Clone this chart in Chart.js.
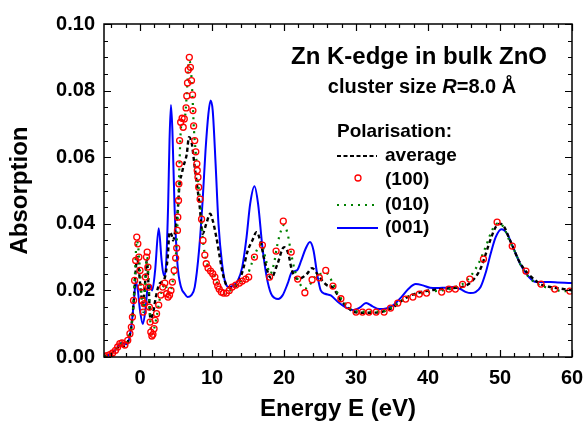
<!DOCTYPE html>
<html>
<head>
<meta charset="utf-8">
<script src="https://cdn.jsdelivr.net/npm/chart.js@4.4.1/dist/chart.umd.min.js"></script>
<style>
  body { margin: 0; background: #fff; }
</style>
</head>
<body>
<canvas id="chart" width="585" height="426"></canvas>
<script>
// values: energy (eV) and absorption for each polarisation
var avgE = [-5, -4.5, -4, -3.5, -3, -2.7, -2.3, -1.9, -1.5, -1.2, -0.9, -0.6, -0.4, -0.15, 0.15, 0.4, 0.7, 0.95, 1.2, 1.45,
  1.8, 2.2, 2.7, 3.4, 3.85, 4.1, 4.4, 4.6, 4.9, 5.2, 5.5, 5.8, 6.0, 6.5, 6.8, 7.2, 7.6, 7.9, 8.3, 8.7,
  9.2, 9.75, 10.1, 10.6, 11, 11.5, 12.2, 12.8, 13.8, 14.4, 14.9, 15.6, 16.2, 16.8, 17.3, 18.2, 19.1, 20, 20.6, 21.1,
  21.8, 22.4, 23.2, 23.9, 24.6, 25.3, 26, 26.7, 27.9, 28.8, 29.7, 31, 32, 33.2, 34.3, 35.2, 36.4, 37.7, 39.7, 41.5,
  43.5, 44.7, 45.7, 46.6, 47.4, 48.1, 48.8, 49.4, 50, 50.6, 51.2, 51.8, 52.6, 53.5, 54.9, 56, 57.1, 58.5, 60];
var avgA = [0.0003, 0.0005, 0.001, 0.002, 0.003, 0.0036, 0.0033, 0.0036, 0.006, 0.009, 0.016, 0.026, 0.030, 0.026, 0.019, 0.016, 0.022, 0.029, 0.021, 0.0115,
  0.013, 0.018, 0.022, 0.0235, 0.030, 0.0375, 0.0366, 0.035, 0.038, 0.043, 0.052, 0.055, 0.057, 0.061, 0.066, 0.064, 0.057, 0.052, 0.045, 0.037,
  0.040, 0.043, 0.041, 0.036, 0.031, 0.025, 0.021, 0.0208, 0.023, 0.027, 0.0315, 0.035, 0.0375, 0.034, 0.029, 0.0237, 0.028, 0.033, 0.031, 0.026,
  0.0235, 0.0237, 0.025, 0.0267, 0.025, 0.023, 0.0215, 0.021, 0.017, 0.015, 0.0135, 0.0133, 0.0133, 0.0134, 0.014, 0.015, 0.017, 0.0186, 0.0198, 0.0203,
  0.0207, 0.021, 0.022, 0.024, 0.027, 0.0315, 0.036, 0.039, 0.040, 0.039, 0.036, 0.033, 0.029, 0.026, 0.023, 0.0215, 0.021, 0.0205, 0.020];

var e100 = [-5, -4.6, -4.2, -3.8, -3.4, -3.1, -2.8, -2.5, -2.1, -1.7, -1.4, -1.2, -1.05, -0.9, -0.75, -0.6, -0.45, -0.3, -0.15, 0,
  0.15, 0.3, 0.45, 0.6, 0.75, 0.9, 1.0, 1.1, 1.2, 1.3, 1.4, 1.5, 1.65, 1.8, 1.95, 2.1, 2.3, 2.6, 2.9, 3.15,
  3.45, 3.7, 3.9, 4.1, 4.3, 4.5, 4.75, 4.95, 5.1, 5.2, 5.25, 5.35, 5.4, 5.45, 5.5, 5.65, 5.85, 6.0, 6.15, 6.4,
  6.5, 6.6, 6.7, 6.85, 7.0, 7.15, 7.3, 7.35, 7.45, 7.6, 7.75, 7.9, 7.95, 8.05, 8.15, 8.35, 8.55, 8.75, 9.0, 9.2,
  9.45, 9.8, 10.1, 10.4, 10.6, 10.8, 11.0, 11.3, 11.6, 12.0, 12.4, 12.8, 13.3, 13.8, 14.2, 14.7, 15.1, 15.9, 17.0, 18.0,
  18.9, 19.9, 21.0, 21.9, 22.9, 23.9, 24.9, 25.8, 26.8, 27.9, 28.9, 30.0, 30.9, 31.8, 32.8, 33.9, 34.8, 35.8, 36.9, 37.9,
  38.8, 39.8, 41.9, 42.9, 43.8, 44.8, 45.8, 47.7, 49.6, 51.7, 53.6, 55.7, 57.6, 59.7];
var a100 = [0.0002, 0.0004, 0.0007, 0.0012, 0.002, 0.003, 0.0040, 0.0042, 0.0036, 0.005, 0.007, 0.009, 0.012, 0.017, 0.023, 0.029, 0.036, 0.034, 0.030, 0.026,
  0.021, 0.017, 0.0135, 0.016, 0.024, 0.030, 0.0315, 0.027, 0.021, 0.015, 0.0105, 0.0075, 0.0063, 0.0068, 0.0085, 0.011, 0.013, 0.0156, 0.0186, 0.021,
  0.0222, 0.019, 0.018, 0.0186, 0.020, 0.0225, 0.026, 0.0297, 0.0327, 0.038, 0.042, 0.047, 0.052, 0.058, 0.065, 0.0705, 0.0717, 0.069, 0.0715, 0.0748,
  0.0784, 0.0823, 0.0862, 0.090, 0.087, 0.083, 0.0787, 0.074, 0.0694, 0.065, 0.0616, 0.058, 0.056, 0.054, 0.051, 0.0474, 0.0414, 0.035, 0.0306, 0.028,
  0.0267, 0.0258, 0.025, 0.024, 0.0225, 0.0213, 0.0204, 0.0195, 0.0192, 0.0192, 0.020, 0.021, 0.0216, 0.0222, 0.0228, 0.0234, 0.024, 0.030, 0.0336, 0.024,
  0.0318, 0.0408, 0.0315, 0.0234, 0.0193, 0.0232, 0.0238, 0.026, 0.0213, 0.0175, 0.0154, 0.0135, 0.0135, 0.0135, 0.0135, 0.0135, 0.0147, 0.0162, 0.0174, 0.018,
  0.0189, 0.0192, 0.0195, 0.0204, 0.0204, 0.0218, 0.0234, 0.0294, 0.0405, 0.0333, 0.0258, 0.0219, 0.0204, 0.0198];

var e010 = [-5, -4.5, -4, -3.5, -3.1, -2.7, -2.3, -1.9, -1.5, -1.2, -0.9, -0.7, -0.45, -0.25, 0, 0.25, 0.45, 0.65, 0.85, 1.0,
  1.15, 1.35, 1.6, 1.9, 2.3, 2.8, 3.2, 3.5, 3.9, 4.3, 4.7, 5.0, 5.25, 5.45, 5.7, 6.0, 6.3, 6.55, 6.8, 7.0,
  7.25, 7.5, 7.8, 8.1, 8.4, 8.7, 9.0, 9.5, 10.0, 10.5, 11.0, 11.6, 12.2, 12.8, 13.5, 14.2, 14.9, 15.5, 16.2, 16.9,
  17.5, 18.1, 18.6, 19.1, 19.6, 20.0, 20.5, 21.0, 21.5, 22.2, 22.9, 23.5, 24.3, 25.2, 26.0, 26.8, 27.5, 28.3, 29.2, 30.2,
  31.5, 33, 34, 35, 36, 37, 38, 39, 40, 41, 42, 43, 44, 45, 46, 47, 48, 49, 49.8, 50.5,
  51.3, 52.2, 53, 54, 55, 56, 57, 58, 59, 60];
var a010 = [0.0002, 0.0005, 0.001, 0.0018, 0.003, 0.0040, 0.0039, 0.004, 0.0065, 0.009, 0.016, 0.025, 0.035, 0.033, 0.026, 0.018, 0.0135, 0.018, 0.027, 0.030,
  0.025, 0.014, 0.0068, 0.008, 0.012, 0.018, 0.021, 0.022, 0.019, 0.020, 0.025, 0.031, 0.042, 0.056, 0.069, 0.071, 0.073, 0.081, 0.089, 0.088,
  0.080, 0.068, 0.060, 0.052, 0.046, 0.036, 0.031, 0.027, 0.0255, 0.0235, 0.0205, 0.019, 0.0195, 0.0205, 0.022, 0.023, 0.0245, 0.028, 0.032, 0.034,
  0.029, 0.025, 0.028, 0.034, 0.038, 0.0396, 0.037, 0.031, 0.026, 0.022, 0.0205, 0.0215, 0.024, 0.025, 0.025, 0.022, 0.019, 0.0165, 0.0145, 0.0137,
  0.0136, 0.0136, 0.0138, 0.015, 0.0165, 0.0178, 0.0186, 0.019, 0.0195, 0.0198, 0.020, 0.0204, 0.0212, 0.0222, 0.0245, 0.028, 0.033, 0.0385, 0.0402, 0.039,
  0.035, 0.031, 0.027, 0.024, 0.0222, 0.0212, 0.0205, 0.020, 0.0198, 0.0197];

var e001 = [-5, -4.5, -4, -3.5, -3, -2.6, -2.2, -1.8, -1.4, -1.1, -0.8, -0.6, -0.3, 0, 0.4, 0.8, 1.1, 1.4, 1.7, 2.1,
  2.6, 3.0, 3.3, 3.6, 3.9, 4.1, 4.3, 4.5, 4.8, 5.2, 5.7, 6.2, 6.6, 7.1, 7.6, 8.2, 8.7, 9.1, 9.5, 9.8,
  10.1, 10.5, 10.9, 11.4, 11.9, 12.4, 13, 13.6, 14.2, 14.8, 15.3, 15.9, 16.4, 17, 17.6, 18.2, 18.7, 19.2, 19.8, 20.5,
  21.1, 21.8, 22.4, 23, 23.6, 24.1, 24.6, 25.1, 25.7, 26.5, 27.5, 28.5, 29.7, 30.5, 31.4, 32.3, 33.2, 34.2, 35.2, 36.3,
  37.3, 38.3, 39.3, 40.3, 41.2, 42.2, 43.5, 44.5, 45.3, 45.9, 46.6, 47.3, 48, 48.7, 49.4, 50.2, 51, 51.6, 52.1, 52.8,
  53.6, 54.4, 55, 56, 57, 58, 59, 60];
var a001 = [0.0003, 0.0005, 0.001, 0.002, 0.0033, 0.0042, 0.0040, 0.0038, 0.0065, 0.011, 0.018, 0.0225, 0.020, 0.014, 0.0099, 0.015, 0.0215, 0.0215, 0.020, 0.026,
  0.0387, 0.029, 0.0245, 0.027, 0.045, 0.065, 0.0757, 0.068, 0.045, 0.028, 0.021, 0.019, 0.018, 0.0185, 0.021, 0.032, 0.047, 0.062, 0.073, 0.077,
  0.074, 0.058, 0.040, 0.028, 0.022, 0.021, 0.0215, 0.023, 0.027, 0.036, 0.046, 0.0513, 0.046, 0.033, 0.024, 0.019, 0.0177, 0.0174, 0.0185, 0.022,
  0.0255, 0.026, 0.029, 0.0325, 0.0345, 0.032, 0.025, 0.020, 0.019, 0.0185, 0.0165, 0.015, 0.0141, 0.0148, 0.0162, 0.0152, 0.0144, 0.0146, 0.0156, 0.018,
  0.0205, 0.0219, 0.0215, 0.0208, 0.0207, 0.0208, 0.021, 0.0204, 0.0195, 0.0192, 0.0195, 0.021, 0.0252, 0.031, 0.036, 0.0384, 0.037, 0.034, 0.0315, 0.028,
  0.0252, 0.0232, 0.0225, 0.0225, 0.0225, 0.0224, 0.0223, 0.0222];

var energyTicks = [0, 10, 20, 30, 40, 50, 60];
var absTicks = [0, 0.02, 0.04, 0.06, 0.08, 0.10];

var font = '"Liberation Sans", Arial, sans-serif';

var pairs = function(xs, ys) {
  return xs.map(function(x, i) { return { x: x, y: ys[i] }; });
};

// box with inward ticks on all four sides, the caption and the legend
var framePlugin = {
  id: 'frame',
  afterDraw: function(chart) {
    var ctx = chart.ctx, a = chart.chartArea;
    var xs = chart.scales.x, ys = chart.scales.y;
    ctx.save();
    ctx.strokeStyle = '#000';
    ctx.lineWidth = 1.5;
    ctx.strokeRect(a.left, a.top, a.right - a.left, a.bottom - a.top);
    ctx.lineWidth = 1.2;
    ctx.beginPath();
    for (var v = -4; v <= 60; v += 2) {
      var px = Math.round(xs.getPixelForValue(v)) + 0.5;
      var len = (v % 10 === 0) ? 7 : 4;
      ctx.moveTo(px, a.bottom); ctx.lineTo(px, a.bottom - len);
      ctx.moveTo(px, a.top); ctx.lineTo(px, a.top + len);
    }
    for (var k = 0; k <= 20; k++) {
      var py = Math.round(ys.getPixelForValue(k * 0.005)) + 0.5;
      var l2 = (k % 4 === 0) ? 7 : 4;
      ctx.moveTo(a.left, py); ctx.lineTo(a.left + l2, py);
      ctx.moveTo(a.right, py); ctx.lineTo(a.right - l2, py);
    }
    ctx.stroke();

    // caption
    ctx.fillStyle = '#000';
    ctx.textBaseline = 'middle';
    ctx.textAlign = 'center';
    ctx.font = 'bold 24px ' + font;
    ctx.fillText('Zn K-edge in bulk ZnO', 419, 57);
    var parts = [['cluster size ', 'bold'], ['R', 'italic bold'], ['=8.0 \u00c5', 'bold']];
    var total = 0;
    parts.forEach(function(p) { ctx.font = p[1] + ' 20px ' + font; total += ctx.measureText(p[0]).width; });
    var cx = 422 - total / 2;
    ctx.textAlign = 'left';
    parts.forEach(function(p) {
      ctx.font = p[1] + ' 20px ' + font;
      ctx.fillText(p[0], cx, 87);
      cx += ctx.measureText(p[0]).width;
    });

    // legend
    ctx.font = 'bold 19px ' + font;
    ctx.fillText('Polarisation:', 337, 132);
    var rows = [
      ['average', 156], ['(100)', 180], ['(010)', 205], ['(001)', 228]
    ];
    rows.forEach(function(r) { ctx.fillText(r[0], 385, r[1]); });

    ctx.lineWidth = 2;
    ctx.strokeStyle = '#000';
    ctx.setLineDash([4, 2.5]);
    ctx.beginPath(); ctx.moveTo(337, 156); ctx.lineTo(377, 156); ctx.stroke();

    ctx.setLineDash([]);
    ctx.strokeStyle = '#ff0000';
    ctx.lineWidth = 1.3;
    ctx.beginPath(); ctx.arc(358, 178, 3, 0, Math.PI * 2); ctx.stroke();

    ctx.strokeStyle = '#008000';
    ctx.lineWidth = 2.2;
    ctx.setLineDash([2, 5]);
    ctx.beginPath(); ctx.moveTo(337, 205); ctx.lineTo(378, 205); ctx.stroke();

    ctx.setLineDash([]);
    ctx.strokeStyle = '#0000ff';
    ctx.lineWidth = 2;
    ctx.beginPath(); ctx.moveTo(337, 228); ctx.lineTo(378, 228); ctx.stroke();
    ctx.restore();
  }
};

var ctx = document.getElementById('chart').getContext('2d');
var myChart = new Chart(ctx, {
  type: 'scatter',
  data: {
    datasets: [{
      label: '(001)',
      data: pairs(e001, a001),
      showLine: true,
      borderColor: '#0000ff',
      borderWidth: 2,
      pointRadius: 0,
      cubicInterpolationMode: 'monotone',
      order: 4
    }, {
      label: 'average',
      data: pairs(avgE, avgA),
      showLine: true,
      borderColor: '#000',
      borderWidth: 2.4,
      borderDash: [4, 3],
      pointRadius: 0,
      cubicInterpolationMode: 'monotone',
      order: 3
    }, {
      label: '(010)',
      data: pairs(e010, a010),
      showLine: true,
      borderColor: '#008000',
      borderWidth: 2.2,
      borderDash: [2, 5],
      pointRadius: 0,
      cubicInterpolationMode: 'monotone',
      order: 2
    }, {
      label: '(100)',
      data: pairs(e100, a100),
      showLine: false,
      borderColor: '#ff0000',
      backgroundColor: 'rgba(0,0,0,0)',
      borderWidth: 1.3,
      pointRadius: 3,
      order: 1
    }]
  },
  options: {
    responsive: false,
    animation: false,
    layout: { padding: { left: 0, right: 13, top: 24, bottom: 0 } },
    plugins: { legend: { display: false }, tooltip: { enabled: false } },
    scales: {
      x: {
        type: 'linear', min: -5, max: 60,
        afterBuildTicks: function(s) { s.ticks = energyTicks.map(function(v) { return { value: v }; }); },
        afterFit: function(s) { s.height = 69; s.paddingLeft = 0; s.paddingRight = 0; },
        grid: { display: false, drawTicks: false },
        border: { display: false },
        ticks: { color: '#000', padding: 9, maxRotation: 0, autoSkip: false,
          font: { family: font, size: 20, weight: 'bold' },
          callback: function(v) { return v; } },
        title: { display: true, text: 'Energy E (eV)', color: '#000',
          font: { family: font, size: 24, weight: 'bold' }, padding: { top: 0, bottom: 2 } }
      },
      y: {
        type: 'linear', min: 0, max: 0.1,
        afterBuildTicks: function(s) { s.ticks = absTicks.map(function(v) { return { value: v }; }); },
        afterFit: function(s) { s.width = 104; s.paddingTop = 0; s.paddingBottom = 0; },
        grid: { display: false, drawTicks: false },
        border: { display: false },
        ticks: { color: '#000', padding: 9, autoSkip: false,
          font: { family: font, size: 20, weight: 'bold' },
          callback: function(v) { return v.toFixed(2); } },
        title: { display: true, text: 'Absorption', color: '#000',
          font: { family: font, size: 24, weight: 'bold' }, padding: { top: 6, bottom: 4 } }
      }
    }
  },
  plugins: [framePlugin]
});
</script>
</body>
</html>
